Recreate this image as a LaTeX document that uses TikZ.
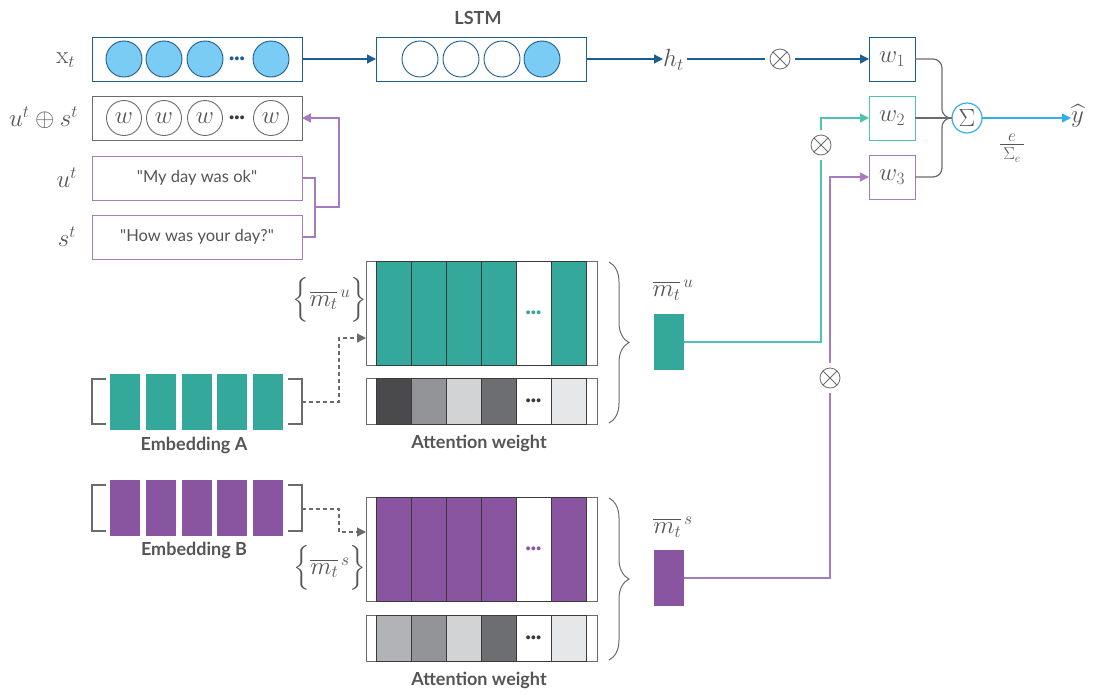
\documentclass[tikz,border=0pt]{standalone}
\usepackage{amsmath}
\usepackage{exscale}
\usepackage{fontspec}
\setsansfont{Lato}
\newfontfamily\latoq{Lato}
\usetikzlibrary{arrows.meta,decorations.pathreplacing,calc}
\definecolor{dblue}{HTML}{1F5D8F}
\definecolor{lblue}{HTML}{7ACCF4}
\definecolor{skyb}{HTML}{33AEEB}
\definecolor{myteal}{HTML}{33A89B}
\definecolor{tline}{HTML}{4EC3B4}
\definecolor{mypurple}{HTML}{8A55A0}
\definecolor{plight}{HTML}{A57CC0}
\definecolor{txtgray}{HTML}{555555}
\definecolor{grayline}{HTML}{6B6B6B}
\definecolor{cellb}{HTML}{3A3A3A}
\definecolor{gA}{HTML}{4A4A4D}
\definecolor{gB}{HTML}{929497}
\definecolor{gC}{HTML}{D1D3D4}
\definecolor{gD}{HTML}{6D6E71}
\definecolor{gE}{HTML}{E6E7E8}
\definecolor{gF}{HTML}{B1B3B6}
\begin{document}
\begin{tikzpicture}[x=1pt,y=-1pt,
  every node/.style={inner sep=0pt, outer sep=0pt},
  lab/.style={font=\fontsize{25}{30}\selectfont, text=txtgray},
  inbox/.style={draw, line width=1pt, minimum width=210pt, minimum height=44pt, fill=white},
  tbox/.style={inbox, draw=plight, font=\latoq\fontsize{16.5}{19}\selectfont, text=txtgray},
  bcirc/.style={circle, draw=dblue, line width=0.9pt, minimum size=36pt},
  fcirc/.style={bcirc, fill=lblue},
  wcirc/.style={circle, draw=grayline, line width=0.9pt, minimum size=35pt, font=\fontsize{25}{30}\selectfont, text=txtgray},
  wbx/.style={draw, line width=1pt, minimum width=46pt, minimum height=44pt, font=\fontsize{25}{30}\selectfont, text=txtgray},
  otimesn/.style={circle, draw=grayline, line width=0.8pt, minimum size=20pt,
    path picture={\draw[grayline, line width=0.8pt] (path picture bounding box.north west) -- (path picture bounding box.south east) (path picture bounding box.north east) -- (path picture bounding box.south west);}},
  dotsn/.style={font=\sffamily\bfseries\fontsize{9}{9}\selectfont},
  bold/.style={font=\sffamily\bfseries\fontsize{18}{21}\selectfont, text=txtgray},
  tri/.style={-{Triangle[length=9pt,width=9pt]}},
  bline/.style={draw=dblue, line width=1.3pt},
  pline/.style={draw=plight, line width=1.3pt},
  tln/.style={draw=tline, line width=1.3pt},
  gln/.style={draw=grayline, line width=1.2pt},
  dln/.style={draw=grayline, line width=1.2pt, dash pattern=on 4pt off 3pt},
  brk/.style={draw=grayline, line width=1.2pt},
  attbox/.style={draw=grayline, line width=0.9pt, fill=white, minimum width=231pt},
  cellst/.style={draw=cellb, line width=0.8pt},
  brc/.style={draw=grayline, line width=1pt, decorate, decoration={brace, amplitude=20pt}}
]
\useasboundingbox (0,0) rectangle (1095,694);

% ---------- left input column ----------
\node[lab, anchor=east] (lx) at (75,60) {$\mathrm{x}_t$};
\node[lab, anchor=east] (lus) at (78,118) {$u^t\oplus s^t$};
\node[lab, anchor=east] (lu) at (77,178) {$u^t$};
\node[lab, anchor=east] (ls) at (76,237) {$s^t$};

\node[inbox, draw=dblue] (xbox) at (197,59) {};
\foreach \xx/\nm in {124/xa,164/xb,205/xc,271/xe} \node[fcirc] (\nm) at (\xx,59) {};
\node[dotsn, text=dblue] (xdots) at (237,59) {•••};

\node[inbox, draw=grayline] (wbox) at (197,118) {};
\foreach \xx/\nm in {124/wa,164/wb,205/wc,271/we} \node[wcirc] (\nm) at (\xx,118) {$w$};
\node[dotsn, text=cellb] (wdots) at (237,118) {•••};

\node[tbox] (ubox) at (197,178) {"My day was ok"};
\node[tbox] (sbox) at (197,237) {"How was your day?"};

\coordinate (jn) at (315,207);
\draw[pline] (ubox.east) -| (jn) |- (sbox.east);
\draw[pline, tri] (jn) -- (339,207) |- (wbox.east);

% ---------- LSTM ----------
\node[bold] (lstmlab) at (478,18) {LSTM};
\node[inbox, draw=dblue] (lstm) at (481,59) {};
\foreach \xx/\nm in {420/la,461/lb,502/lc} \node[bcirc, fill=white] (\nm) at (\xx,59) {};
\node[fcirc] (ld) at (542,59) {};
\draw[bline, tri] (xbox.east) -- (lstm.west);
\node[lab, anchor=west] (ht) at (663,60) {$h_t$};
\draw[bline, tri] (lstm.east) -- (lstm.east -| ht.west);
\node[otimesn] (ot1) at (780,59) {};
\draw[bline, shorten >=5pt] (ht.east |- ot1) ++(3,0) -- (ot1);
\node[wbx, draw=dblue] (w1) at (892,59) {$w_1$};
\node[wbx, draw=tline] (w2) at (892,118) {$w_2$};
\node[wbx, draw=plight] (w3) at (892,177) {$w_3$};
\draw[bline, tri, shorten <=5pt] (ot1) -- (w1.west);

\node[circle, draw=skyb, line width=1.2pt, minimum size=30pt, font=\fontsize{25}{30}\selectfont, text=txtgray] (sig) at (967,118) {$\Sigma$};
\draw[gln, rounded corners=9pt] (w1.east) -| (942,118) -- (sig.west);
\draw[gln, rounded corners=9pt] (w3.east) -| (942,118) -- (sig.west);
\draw[gln] (w2.east) -- (sig.west);
\node[lab, anchor=west] (yhat) at (1071,116) {$\widehat{y}$};
\draw[draw=skyb, line width=1.3pt, tri] (sig.east) -- (sig.east -| yhat.west);
\node[lab] (frac) at (1012,148) {$\frac{e}{\,\Sigma_e\,}$};

% ---------- memory outputs ----------
\node[fill=myteal, minimum width=30pt, minimum height=56pt] (mu) at (669,342) {};
\node[lab] (mulab) at (673,290) {$\overline{m_t}^{\,u}$};
\node[fill=mypurple, minimum width=30pt, minimum height=56pt] (ms) at (669,578) {};
\node[lab] (mslab) at (673,527) {$\overline{m_t}^{\,s}$};

\node[otimesn] (ot2) at (821,145) {};
\node[otimesn] (ot3) at (830,378) {};
\draw[tln, shorten >=5pt] (mu.east) -| (ot2);
\draw[tln, tri, shorten <=5pt] (ot2) |- (w2.west);
\draw[pline, shorten >=5pt] (ms.east) -| (ot3);
\draw[pline, tri, shorten <=5pt] (ot3) |- (w3.west);

% ---------- attention block u ----------
\node[attbox, minimum height=104pt] (atu) at (481.5,313) {};
\foreach \c [count=\i from 0] in {myteal,myteal,myteal,myteal,white,myteal}
  \filldraw[cellst, fill=\c] (376+35*\i,261) rectangle ++(35,104);
\node[dotsn, text=myteal] (dtu) at (533.5,313) {•••};
\node[attbox, minimum height=46pt] (agu) at (481.5,401) {};
\foreach \c [count=\i from 0] in {gA,gB,gC,gD,white,gE}
  \filldraw[cellst, fill=\c] (376+35*\i,378) rectangle ++(35,46);
\node[dotsn, text=cellb] (dgu) at (533.5,401) {•••};
\draw[brc] (609,262) -- (609,423);
\node[lab] (setu) at (330,300) {$\Bigl\{\overline{m_t}^{\,u}\Bigr\}$};
\node[bold] (awu) at (479,443) {Attention weight};

% ---------- attention block s ----------
\node[attbox, minimum height=104pt] (ats) at (481.5,549) {};
\foreach \c [count=\i from 0] in {mypurple,mypurple,mypurple,mypurple,white,mypurple}
  \filldraw[cellst, fill=\c] (376+35*\i,497) rectangle ++(35,104);
\node[dotsn, text=mypurple] (dts) at (533.5,549) {•••};
\node[attbox, minimum height=46pt] (ags) at (481.5,638) {};
\foreach \c [count=\i from 0] in {gF,gB,gC,gD,white,gE}
  \filldraw[cellst, fill=\c] (376+35*\i,615) rectangle ++(35,46);
\node[dotsn, text=cellb] (dgs) at (533.5,638) {•••};
\draw[brc] (609,498) -- (609,660);
\node[lab] (sets) at (330,568) {$\Bigl\{\overline{m_t}^{\,s}\Bigr\}$};
\node[bold] (aws) at (479,680) {Attention weight};

% ---------- embeddings ----------
\node[minimum width=210pt, minimum height=45pt] (ema) at (197,402) {};
\draw[brk] (106,379) -- (92,379) -- (92,424) -- (106,424);
\draw[brk] (288,379) -- (302,379) -- (302,424) -- (288,424);
\foreach \i in {0,...,4} \fill[myteal] (110+35.8*\i,374) rectangle ++(30,56);
\node[bold] (ela) at (194,445) {Embedding A};

\node[minimum width=210pt, minimum height=45pt] (emb) at (197,509) {};
\draw[brk] (106,485) -- (92,485) -- (92,531) -- (106,531);
\draw[brk] (288,485) -- (302,485) -- (302,531) -- (288,531);
\foreach \i in {0,...,4} \fill[mypurple] (110+35.8*\i,480) rectangle ++(30,56);
\node[bold] (elb) at (194,550) {Embedding B};

\coordinate (atuin) at (366,338);
\coordinate (atsin) at (366,532);
\draw[dln, -{Triangle[length=9pt,width=9pt]}] (ema.east) -- (339,402) |- (atuin);
\draw[dln, -{Triangle[length=9pt,width=9pt]}] (emb.east) -- (339,509) |- (atsin);
\end{tikzpicture}
\end{document}
